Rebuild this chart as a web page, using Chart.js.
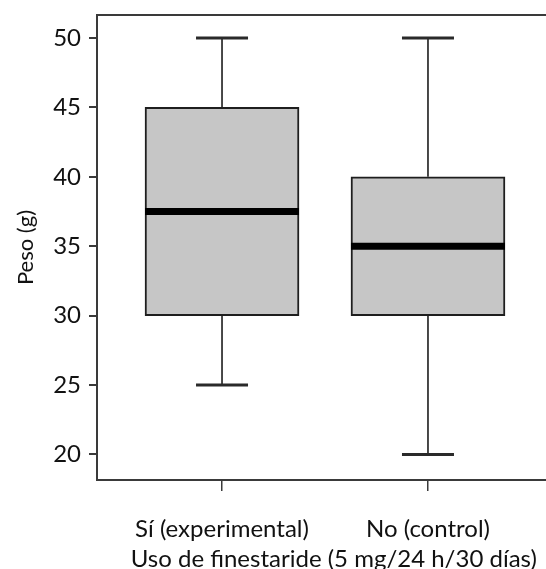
<!DOCTYPE html>
<html>
<head>
<meta charset="utf-8">
<script src="https://cdn.jsdelivr.net/npm/chart.js@4/dist/chart.umd.min.js"></script>
<style>
  html, body { margin: 0; padding: 0; background: #fff; }
</style>
</head>
<body>
<canvas id="boxChart" width="546" height="569"></canvas>
<script>
// box plot values
const groups = ['Sí (experimental)', 'No (control)'];
const groupPos = [1, 2];
const minVals = [25, 20];
const q1Vals = [30, 30];
const medianVals = [37.5, 35];
const q3Vals = [45, 40];
const maxVals = [50, 50];
const yTicks = [20, 25, 30, 35, 40, 45, 50];

const ink = '#1e1e1e';
const axisColor = '#3a3a3a';
const sans = 'Lato';

// whisker segments, null breaks between them
let whiskerPts = [];
groupPos.forEach((x, i) => {
  whiskerPts.push({x: x, y: q3Vals[i]}, {x: x, y: maxVals[i]}, {x: x, y: null});
  whiskerPts.push({x: x, y: minVals[i]}, {x: x, y: q1Vals[i]}, {x: x, y: null});
});

let capPts = [];
groupPos.forEach((x, i) => {
  capPts.push({x: x, y: minVals[i]}, {x: x, y: maxVals[i]});
});

let ctx = document.getElementById('boxChart').getContext('2d');
let boxChart = new Chart(ctx, {
  type: 'bar',
  data: {
    datasets: [
      {
        type: 'bar',
        label: 'box',
        data: groupPos.map((x, i) => ({x: x, y: [q1Vals[i], q3Vals[i]]})),
        backgroundColor: '#c6c6c6',
        borderColor: ink,
        borderWidth: 2,
        borderSkipped: false,
        barThickness: 154,
        order: 2
      },
      {
        type: 'line',
        label: 'whiskers',
        data: whiskerPts,
        borderColor: ink,
        borderWidth: 1.6,
        pointRadius: 0,
        spanGaps: false,
        order: 3
      },
      {
        type: 'scatter',
        label: 'caps',
        data: capPts,
        pointStyle: 'line',
        pointRadius: 26,
        pointBorderWidth: 3,
        pointBorderColor: '#2a2a2a',
        borderColor: '#2a2a2a',
        order: 1
      },
      {
        type: 'scatter',
        label: 'median',
        data: groupPos.map((x, i) => ({x: x, y: medianVals[i]})),
        pointStyle: 'line',
        pointRadius: 77,
        pointBorderWidth: 7,
        pointBorderColor: '#000',
        borderColor: '#000',
        order: 0
      }
    ]
  },
  options: {
    responsive: false,
    animation: false,
    devicePixelRatio: 1,
    layout: { padding: 0, autoPadding: false },
    plugins: {
      legend: { display: false },
      tooltip: { enabled: false }
    },
    scales: {
      x: {
        type: 'linear',
        position: 'bottom',
        offset: false,
        min: 0.393,
        max: 2.573,
        afterBuildTicks: (scale) => { scale.ticks = groupPos.map(v => ({value: v})); },
        afterFit: (scale) => {
          scale.height = 89;
          scale.paddingLeft = 0;
          scale.paddingRight = 0;
        },
        grid: { offset: false, drawOnChartArea: false, tickLength: 11, color: axisColor, lineWidth: 1.5 },
        border: { display: true, color: axisColor, width: 2 },
        ticks: {
          autoSkip: false,
          maxRotation: 0,
          padding: 24,
          color: '#111',
          font: { family: sans, size: 24 },
          callback: (v) => { let i = groupPos.indexOf(v); return i >= 0 ? groups[i] : ''; }
        },
        title: {
          display: true,
          text: '    Uso de finestaride (5 mg/24 h/30 días)',
          color: '#111',
          font: { family: sans, size: 24, lineHeight: 1 },
          padding: { top: 0, bottom: -2 }
        }
      },
      xTop: {
        type: 'linear',
        axis: 'x',
        position: 'top',
        offset: false,
        afterFit: (scale) => { scale.height = 15; },
        grid: { display: false, offset: false },
        ticks: { display: false },
        border: { display: true, color: axisColor, width: 2 }
      },
      y: {
        type: 'linear',
        min: 18.16,
        max: 51.66,
        afterBuildTicks: (scale) => { scale.ticks = yTicks.map(v => ({value: v})); },
        afterFit: (scale) => {
          scale.width = 97;
          scale.paddingTop = 0;
          scale.paddingBottom = 0;
        },
        grid: { drawOnChartArea: false, tickLength: 8, color: axisColor, lineWidth: 2 },
        border: { display: true, color: axisColor, width: 2 },
        ticks: {
          padding: 8,
          color: '#111',
          font: { family: sans, size: 24 }
        },
        title: {
          display: true,
          text: 'Peso (g)',
          color: '#111',
          font: { family: sans, size: 22 },
          padding: { top: 13, bottom: 0 }
        }
      }
    }
  }
});
</script>
</body>
</html>
